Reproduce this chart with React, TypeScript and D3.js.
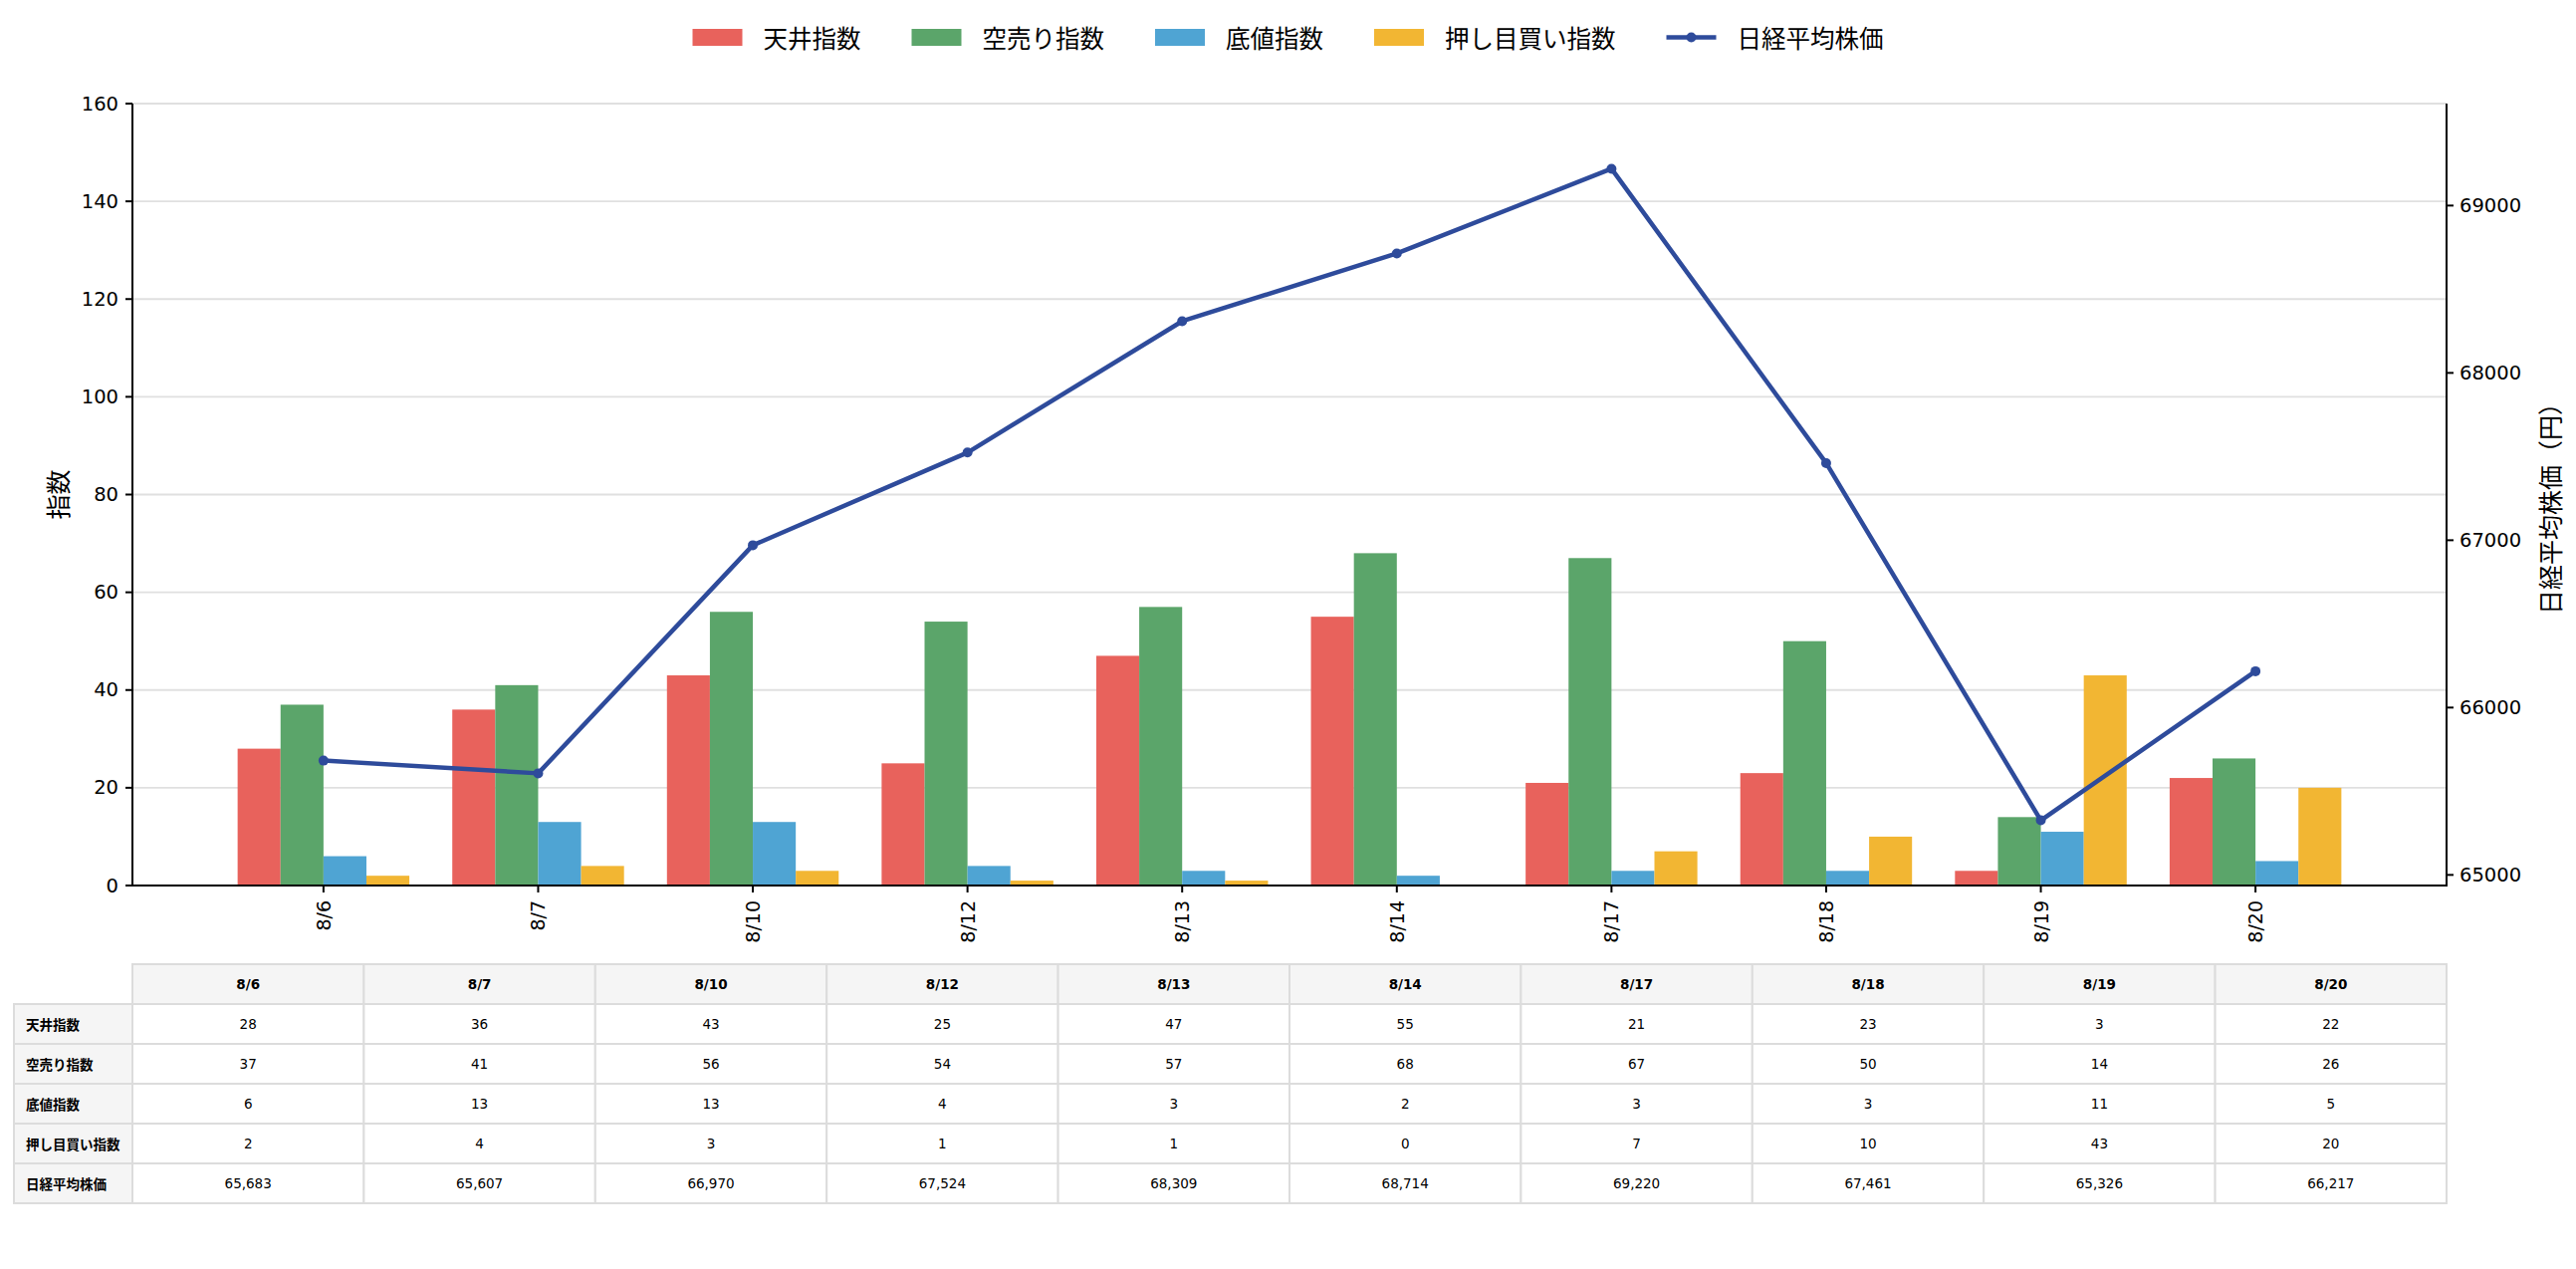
import React from "react";
import * as d3 from "d3";

const categories = ["8/6", "8/7", "8/10", "8/12", "8/13", "8/14", "8/17", "8/18", "8/19", "8/20"];
const seriesNames = ["天井指数", "空売り指数", "底値指数", "押し目買い指数"];
const tenjo = [28, 36, 43, 25, 47, 55, 21, 23, 3, 22];
const karauri = [37, 41, 56, 54, 57, 68, 67, 50, 14, 26];
const sokone = [6, 13, 13, 4, 3, 2, 3, 3, 11, 5];
const oshime = [2, 4, 3, 1, 1, 0, 7, 10, 43, 20];
const lineName = "日経平均株価";
const nikkei = [65683, 65607, 66970, 67524, 68309, 68714, 69220, 67461, 65326, 66217];
const leftTicks = [0, 20, 40, 60, 80, 100, 120, 140, 160];
const rightTicks = [65000, 66000, 67000, 68000, 69000];

const barSeries = [tenjo, karauri, sokone, oshime];
const colors = ["#e8625c", "#5ba56a", "#4fa4d3", "#f2b633"];
const lineColor = "#2e4b9b";

const W = 2587;
const H = 1274;
const L = 133;
const R = 2457;
const T = 104;
const B = 889;

const LATIN = "'DejaVu Sans', 'Noto Sans CJK JP', sans-serif";
const CJK = "'Noto Sans CJK JP', 'DejaVu Sans', sans-serif";

export default function App() {
  const n = categories.length;
  const barW = 0.2;
  const x = d3.scaleLinear().domain([-0.4 - 0.49, n - 1 + 0.4 + 0.49]).range([L, R]);
  const yL = d3.scaleLinear().domain([0, 160]).range([B, T]);
  const minV = d3.min(nikkei) as number;
  const maxV = d3.max(nikkei) as number;
  const pad = (maxV - minV) * 0.1;
  const yR = d3.scaleLinear().domain([minV - pad, maxV + pad]).range([B, T]);

  const line = d3
    .line<number>()
    .x((_, i) => x(i))
    .y((d) => yR(d));

  // legend layout
  const fs = 24.5;
  const legendItems = [...seriesNames.map((s, i) => ({ name: s, color: colors[i], isLine: false })), { name: lineName, color: lineColor, isLine: true }];
  const itemW = legendItems.map((it) => 50 + 21 + it.name.length * fs);
  const totalW = d3.sum(itemW) + 51 * (legendItems.length - 1);
  let cursor = W / 2 - totalW / 2;
  const legendPos = itemW.map((w) => {
    const p = cursor;
    cursor += w + 51;
    return p;
  });

  // table layout
  const tTop = 968;
  const rowH = 40;
  const labelL = 14;
  const colW = (R - L) / n;
  const tableRows = [
    ...seriesNames.map((s, i) => ({ label: s, vals: barSeries[i].map((v) => String(v)) })),
    { label: lineName, vals: nikkei.map((v) => d3.format(",")(v)) },
  ];
  const border = "#dcdcdc";
  const headBg = "#f5f5f5";

  return (
    <svg width={W} height={H} style={{ position: "absolute", left: 0, top: 0, background: "#fff" }}>
      <rect x={0} y={0} width={W} height={H} fill="#fff" />
      {/* gridlines */}
      {leftTicks.map((t) => (
        <line key={"g" + t} x1={L} x2={R} y1={yL(t)} y2={yL(t)} stroke="#e0e0e0" strokeWidth={1.8} />
      ))}
      {/* bars */}
      {barSeries.map((vals, k) =>
        vals.map((v, i) => {
          const x0 = x(i + (k - 1.5) * barW - barW / 2);
          const x1 = x(i + (k - 1.5) * barW + barW / 2);
          return <rect key={`b${k}-${i}`} x={x0} y={yL(v)} width={x1 - x0} height={yL(0) - yL(v)} fill={colors[k]} />;
        })
      )}
      {/* spines */}
      <line x1={L} x2={L} y1={T} y2={B} stroke="#000" strokeWidth={2} />
      <line x1={R} x2={R} y1={T} y2={B} stroke="#000" strokeWidth={2} />
      <line x1={L - 1} x2={R + 1} y1={B} y2={B} stroke="#000" strokeWidth={2} />
      {/* left ticks */}
      {leftTicks.map((t) => (
        <g key={"lt" + t}>
          <line x1={L - 7} x2={L} y1={yL(t)} y2={yL(t)} stroke="#000" strokeWidth={2} />
          <text x={L - 14} y={yL(t)} textAnchor="end" dominantBaseline="central" fontFamily={LATIN} fontSize={19.5} fill="#000">
            {t}
          </text>
        </g>
      ))}
      {/* right ticks */}
      {rightTicks.map((t) => (
        <g key={"rt" + t}>
          <line x1={R} x2={R + 7} y1={yR(t)} y2={yR(t)} stroke="#000" strokeWidth={2} />
          <text x={R + 13} y={yR(t)} textAnchor="start" dominantBaseline="central" fontFamily={LATIN} fontSize={19.5} fill="#000">
            {t}
          </text>
        </g>
      ))}
      {/* x ticks */}
      {categories.map((c, i) => (
        <g key={"xt" + c}>
          <line x1={x(i)} x2={x(i)} y1={B} y2={B + 7} stroke="#000" strokeWidth={2} />
          <text
            transform={`translate(${x(i)},${B + 15}) rotate(-90)`}
            textAnchor="end"
            dominantBaseline="central"
            fontFamily={LATIN}
            fontSize={19}
            fill="#000"
          >
            {c}
          </text>
        </g>
      ))}
      {/* axis labels */}
      <text transform={`translate(57,${(T + B) / 2}) rotate(-90)`} textAnchor="middle" dominantBaseline="central" fontFamily={CJK} fontSize={25} fill="#000">
        指数
      </text>
      <text transform={`translate(2560,${(T + B) / 2 + 8}) rotate(-90)`} textAnchor="middle" dominantBaseline="central" fontFamily={CJK} fontSize={25} fill="#000">
        日経平均株価（円）
      </text>
      {/* line */}
      <path d={line(nikkei) || ""} fill="none" stroke={lineColor} strokeWidth={4.5} strokeLinejoin="round" />
      {nikkei.map((v, i) => (
        <circle key={"m" + i} cx={x(i)} cy={yR(v)} r={5} fill={lineColor} />
      ))}
      {/* legend */}
      {legendItems.map((it, i) => {
        const px = legendPos[i];
        return (
          <g key={"lg" + i}>
            {it.isLine ? (
              <g>
                <line x1={px} x2={px + 50} y1={37.5} y2={37.5} stroke={it.color} strokeWidth={4.5} />
                <circle cx={px + 25} cy={37.5} r={5} fill={it.color} />
              </g>
            ) : (
              <rect x={px} y={29} width={50} height={17} fill={it.color} />
            )}
            <text x={px + 71} y={37} dominantBaseline="central" fontFamily={CJK} fontSize={fs} fill="#000">
              {it.name}
            </text>
          </g>
        );
      })}
      {/* table */}
      <g>
        {categories.map((c, j) => (
          <g key={"th" + j}>
            <rect x={L + j * colW} y={tTop} width={colW} height={rowH} fill={headBg} stroke={border} strokeWidth={2} />
            <text x={L + j * colW + colW / 2} y={tTop + rowH / 2} textAnchor="middle" dominantBaseline="central" fontFamily={LATIN} fontWeight="bold" fontSize={13.5} fill="#000">
              {c}
            </text>
          </g>
        ))}
        {tableRows.map((row, r) => {
          const ry = tTop + rowH * (r + 1);
          return (
            <g key={"tr" + r}>
              <rect x={labelL} y={ry} width={L - labelL} height={rowH} fill={headBg} stroke={border} strokeWidth={2} />
              <text x={labelL + 12} y={ry + rowH / 2} dominantBaseline="central" fontFamily={CJK} fontWeight="bold" fontSize={13.5} fill="#000">
                {row.label}
              </text>
              {row.vals.map((v, j) => (
                <g key={"td" + r + "-" + j}>
                  <rect x={L + j * colW} y={ry} width={colW} height={rowH} fill="#fff" stroke={border} strokeWidth={2} />
                  <text x={L + j * colW + colW / 2} y={ry + rowH / 2} textAnchor="middle" dominantBaseline="central" fontFamily={LATIN} fontSize={13.5} fill="#000">
                    {v}
                  </text>
                </g>
              ))}
            </g>
          );
        })}
      </g>
    </svg>
  );
}
